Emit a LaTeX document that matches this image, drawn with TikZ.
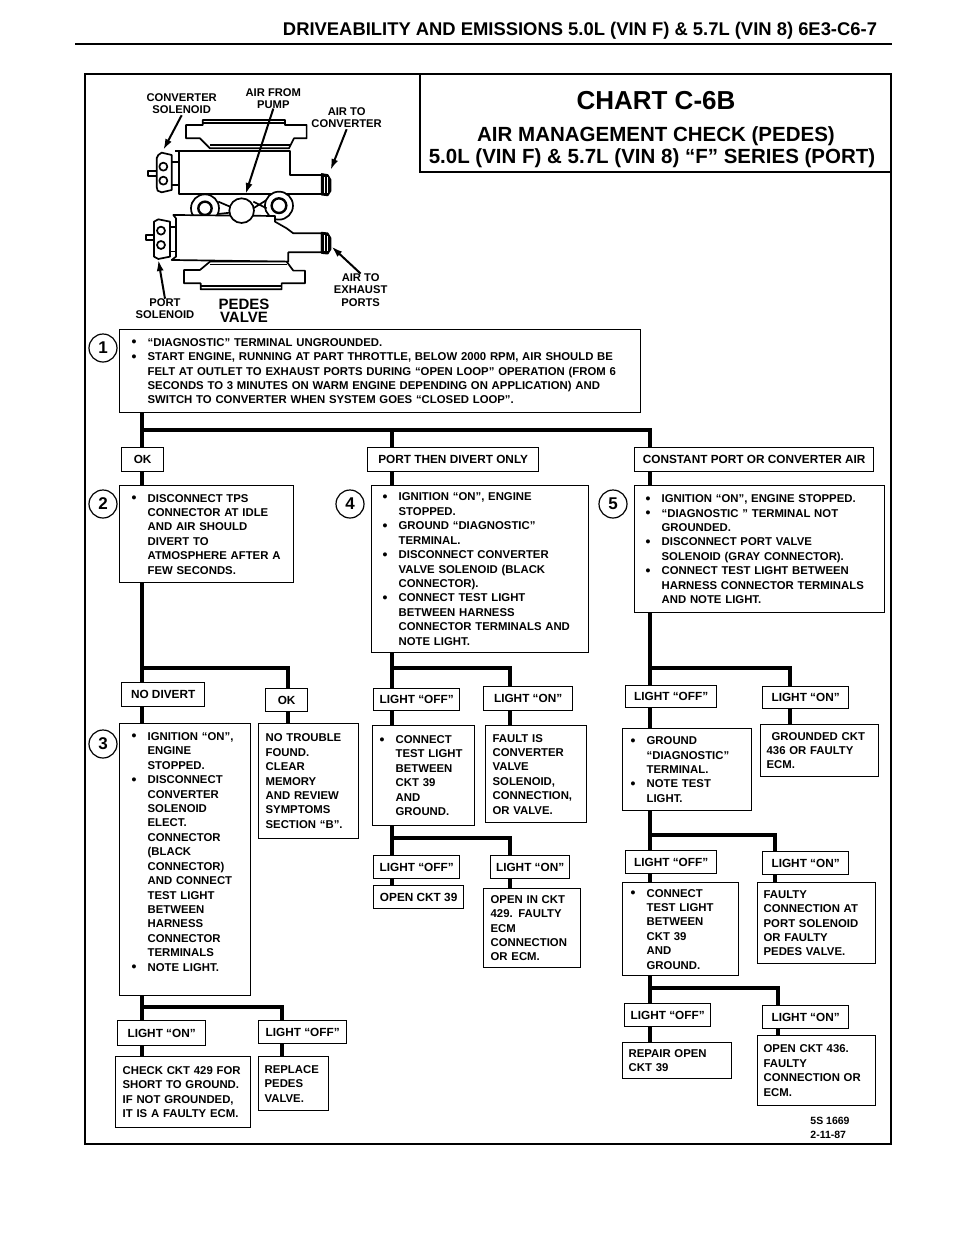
\documentclass[tikz,border=0pt]{standalone}
\usepackage{fontspec}
\setmainfont{Liberation Sans}
\newcommand{\chartfont}{\fontsize{11.35}{14.42}\selectfont\bfseries}
\newcommand{\bul}{\makebox[16pt][l]{\raisebox{-0.6pt}{\fontsize{14}{14}\selectfont\textbullet}}}
\newcommand{\ind}{\hspace*{16pt}}
\tikzset{
  box/.style n args={3}{draw, line width=1.3pt, anchor=north west, align=left, inner xsep=#3,
    inner ysep=0pt, minimum width=#1, minimum height=#2, text width={#1pt-2*#3}, font=\chartfont},
  tag/.style n args={2}{draw, line width=1.3pt, anchor=north west, inner sep=0pt,
    minimum width=#1, minimum height=#2, font=\fontsize{11.8}{14}\selectfont\bfseries},
  num/.style={draw, circle, line width=1.2pt, minimum size=28pt, inner sep=0pt, font=\fontsize{17}{17}\selectfont\bfseries},
  bus/.style={line width=3.6pt},
  part/.style={line width=1.7pt, line join=round},
  ptr/.style={line width=2pt, -{Latex[length=11pt,width=7pt]}},
  lbl/.style={align=center, font=\fontsize{11.2}{12.2}\selectfont\bfseries, inner sep=0pt},
}
\usetikzlibrary{arrows.meta}
\begin{document}
\begin{tikzpicture}[x=1pt, y=-1pt]
  \useasboundingbox (0,0) rectangle (960,1242);
  \fill[white] (0,0) rectangle (960,1242);

  % page head and frame
  \node[font=\fontsize{18.4}{20}\selectfont\bfseries, inner sep=0pt] (head) at (580,31)
    {DRIVEABILITY AND EMISSIONS 5.0L (VIN F) \& 5.7L (VIN 8) 6E3-C6-7};
  \draw[line width=2.4pt] (75,44) -- (892,44);
  \draw[line width=1.8pt] (85,74) rectangle (891,1144);
  \draw[line width=1.3pt] (420,74) -- (420,172) -- (891,172);
  \node[font=\fontsize{26}{30}\selectfont\bfseries, inner sep=0pt] (chart) at (656,101) {CHART C-6B};
  \node[font=\fontsize{20.5}{22}\selectfont\bfseries, inner sep=0pt] (title1) at (656,136) {AIR MANAGEMENT CHECK (PEDES)};
  \node[font=\fontsize{20.5}{22}\selectfont\bfseries, inner sep=0pt] (title2) at (652,158) {5.0L (VIN F) \& 5.7L (VIN 8) ``F'' SERIES (PORT)};

  % valve
  \begin{scope}[shift={(90,60)}, x=0.3333pt, y=-0.3333pt]
    \draw[part, fill=white] (288,195) -- (338,195) -- (338,180) -- (585,180) -- (585,195) -- (650,195)
      -- (650,235) -- (612,235) -- (597,265) -- (360,265) -- (330,235) -- (288,235) -- cycle;
    \draw[part] (338,190) -- (585,190) (360,256) -- (602,256);
    \draw[part, fill=white] (255,272) -- (600,272) -- (600,345) -- (695,345) -- (695,402) -- (268,402)
      -- (268,272);
    \draw[part, fill=black] (695,342) -- (713,345) -- (722,360) -- (722,392) -- (713,406) -- (695,404) -- cycle;
    \draw[line width=0.8pt, white] (703,350) -- (703,398) (712,352) -- (712,398);
    \draw[part, fill=white] (205,285) -- (215,278) -- (245,285) -- (245,390) -- (215,397) -- (203,392)
      -- (200,380) -- (200,295) -- cycle;
    \draw[part] (220,320) circle (12) (220,362) circle (12);
    \draw[part] (200,332) -- (175,332) -- (175,348) -- (200,348);
    \draw[part] (245,305) -- (268,305) (245,375) -- (268,375);
    \draw[part, fill=white] (345,445) circle (42);
    \draw[line width=2.4pt] (345,445) circle (20);
    \draw[part, fill=white] (567,437) circle (42);
    \draw[line width=2.4pt] (567,437) circle (22);
    \draw[part] (385,425) -- (420,440) (385,462) -- (420,458) (490,425) -- (530,445) (490,445) -- (530,420);
    \draw[part, fill=white] (250,465) -- (555,468) -- (555,485) -- (590,505) -- (610,520) -- (695,520)
      -- (695,577) -- (595,577) -- (595,605) -- (245,600) -- (258,590) -- (258,475) -- cycle;
    \draw[part, fill=white] (455,452) circle (37);
    \draw[part, fill=black] (695,518) -- (713,520) -- (722,535) -- (722,567) -- (713,581) -- (695,579) -- cycle;
    \draw[line width=0.8pt, white] (703,525) -- (703,573) (712,527) -- (712,573);
    \draw[part, fill=white] (192,485) -- (205,478) -- (240,485) -- (240,590) -- (205,597) -- (192,590) -- cycle;
    \draw[part] (213,512) circle (12) (213,555) circle (12);
    \draw[part] (192,525) -- (168,525) -- (168,540) -- (192,540);
    \draw[part] (240,500) -- (258,500) (240,575) -- (258,575);
    \draw[part, fill=white] (282,630) -- (330,630) -- (360,605) -- (590,605) -- (610,632) -- (645,632)
      -- (645,670) -- (575,670) -- (575,688) -- (332,688) -- (332,670) -- (282,670) -- cycle;
    \draw[part] (360,614) -- (590,614) (332,678) -- (575,678);

    \node[lbl] (consol) at (275,130) {CONVERTER\\SOLENOID};
    \node[lbl] (pump) at (550,115) {AIR FROM\\PUMP};
    \node[lbl] (toconv) at (770,172) {AIR TO\\CONVERTER};
    \node[lbl] (portsol) at (225,747) {PORT\\SOLENOID};
    \node[lbl] (toexh) at (812,690) {AIR TO\\EXHAUST\\PORTS};
    \node[lbl, font=\fontsize{15}{13.5}\selectfont\bfseries] (pedes) at (462,753) {PEDES\\VALVE};
    \coordinate (consolEnd) at (220,270);
    \coordinate (pumpEnd) at (467,402);
    \coordinate (toconvEnd) at (722,330);
    \coordinate (portsolEnd) at (205,600);
    \coordinate (toexhEnd) at (725,560);
    \draw[ptr] (consol.south) ++(0,5) -- (consolEnd);
    \draw[ptr] (pump.south) -- (pumpEnd);
    \draw[ptr] (toconv.south) ++(0,5) -- (toconvEnd);
    \draw[ptr] (portsol.north) -- (portsolEnd);
    \draw[ptr] (toexh.north) -- (toexhEnd);
  \end{scope}

  % first row
  \node[box={521}{83}{12}] (diag) at (119,329)
    {\bul``DIAGNOSTIC'' TERMINAL UNGROUNDED.\\
     \bul START ENGINE, RUNNING AT PART THROTTLE, BELOW 2000 RPM, AIR SHOULD BE\\
     \ind FELT AT OUTLET TO EXHAUST PORTS DURING ``OPEN LOOP'' OPERATION (FROM 6\\
     \ind SECONDS TO 3 MINUTES ON WARM ENGINE DEPENDING ON APPLICATION) AND\\
     \ind SWITCH TO CONVERTER WHEN SYSTEM GOES ``CLOSED LOOP''.};
  \node[num] (n1) at (103,348) {1};
  \node[tag={42}{24}] (ok1) at (121,447) {OK};
  \node[tag={171}{24}] (port) at (367,447) {PORT THEN DIVERT ONLY};
  \node[tag={239}{24}] (const) at (634,447) {CONSTANT PORT OR CONVERTER AIR};

  \node[box={174}{97}{12}] (tps) at (119,485)
    {\bul DISCONNECT TPS\\\ind CONNECTOR AT IDLE\\\ind AND AIR SHOULD\\\ind DIVERT TO\\\ind ATMOSPHERE AFTER A\\\ind FEW SECONDS.};
  \node[num] (n2) at (103,504) {2};
  \node[box={217}{167}{11}] (ign4) at (371,485)
    {\bul IGNITION ``ON'', ENGINE\\\ind STOPPED.\\\bul GROUND ``DIAGNOSTIC''\\\ind TERMINAL.\\\bul DISCONNECT  CONVERTER\\\ind VALVE SOLENOID (BLACK\\\ind CONNECTOR).\\\bul CONNECT TEST LIGHT\\\ind BETWEEN HARNESS\\\ind CONNECTOR TERMINALS AND\\\ind NOTE LIGHT.};
  \node[num] (n4) at (350,504) {4};
  \node[box={250}{127}{11}] (ign5) at (634,485)
    {\bul IGNITION ``ON'', ENGINE STOPPED.\\\bul ``DIAGNOSTIC '' TERMINAL NOT\\\ind GROUNDED.\\\bul DISCONNECT PORT VALVE\\\ind SOLENOID (GRAY CONNECTOR).\\\bul CONNECT TEST LIGHT BETWEEN\\\ind HARNESS CONNECTOR TERMINALS\\\ind AND NOTE LIGHT.};
  \node[num] (n5) at (613,504) {5};

  \coordinate (trunkA) at (142,430);
  \coordinate (trunkB) at (392,430);
  \coordinate (trunkC) at (650,430);
  \draw[bus] (diag.south -| trunkA) -- (trunkA);
  \draw[bus] (trunkA) -- (trunkC) -- (const.north -| trunkC);
  \draw[bus] (trunkA) -- (ok1.north -| trunkA);
  \draw[bus] (trunkB) -- (port.north -| trunkB);
  \draw[bus] (ok1.south -| trunkA) -- (tps.north -| trunkA);
  \draw[bus] (port.south -| trunkB) -- (ign4.north -| trunkB);
  \draw[bus] (const.south -| trunkC) -- (ign5.north -| trunkC);

  % left branch
  \node[tag={83}{24}] (nodiv) at (121,682) {NO DIVERT};
  \node[tag={42}{23}] (ok2) at (265,688) {OK};
  \node[box={131}{272}{12}] (ign3) at (119,723)
    {\bul IGNITION ``ON'',\\\ind ENGINE\\\ind STOPPED.\\\bul DISCONNECT\\\ind CONVERTER\\\ind SOLENOID\\\ind ELECT.\\\ind CONNECTOR\\\ind (BLACK\\\ind CONNECTOR)\\\ind AND CONNECT\\\ind TEST LIGHT\\\ind BETWEEN\\\ind HARNESS\\\ind CONNECTOR\\\ind TERMINALS\\\bul NOTE LIGHT.\\[-3pt] \strut};
  \node[num] (n3) at (103,744) {3};
  \node[box={100}{115}{7}] (trouble) at (258,723)
    {NO TROUBLE\\FOUND.\\CLEAR\\MEMORY\\AND REVIEW\\SYMPTOMS\\SECTION ``B''.};
  \node[tag={88}{25}] (on3) at (117,1020) {LIGHT ``ON''};
  \node[tag={88}{23}] (off3) at (258,1020) {LIGHT ``OFF''};
  \node[box={135}{71}{7}] (check) at (115,1056)
    {CHECK CKT 429 FOR\\SHORT TO GROUND.\\IF NOT GROUNDED,\\IT IS A FAULTY ECM.};
  \node[box={70}{54}{6}] (repl) at (258,1056) {REPLACE\\PEDES\\VALVE.};

  \coordinate (busA) at (142,668);
  \coordinate (busA2) at (288,668);
  \draw[bus] (tps.south -| busA) -- (nodiv.north -| busA);
  \draw[bus] (busA) -- (busA2) -- (ok2.north -| busA2);
  \draw[bus] (nodiv.south -| busA) -- (ign3.north -| busA);
  \draw[bus] (ok2.south -| busA2) -- (trouble.north -| busA2);
  \coordinate (busE) at (142,1007);
  \coordinate (busE2) at (282,1007);
  \draw[bus] (ign3.south -| busE) -- (on3.north -| busE);
  \draw[bus] (busE) -- (busE2) -- (off3.north -| busE2);
  \draw[bus] (on3.south -| busE) -- (check.north -| busE);
  \draw[bus] (off3.south -| busE2) -- (repl.north -| busE2);

  % middle branch
  \node[tag={86}{22}] (off4) at (373,688) {LIGHT ``OFF''};
  \node[tag={89}{24}] (on4) at (483,686) {LIGHT ``ON''};
  \node[box={102}{100}{7}] (conn4) at (372,725)
    {\bul CONNECT\\\ind TEST LIGHT\\\ind BETWEEN\\\ind CKT 39\\\ind AND\\\ind GROUND.};
  \node[box={101}{97}{7}] (fault4) at (485,725)
    {FAULT IS\\CONVERTER\\VALVE\\SOLENOID,\\CONNECTION,\\OR VALVE.};
  \node[tag={86}{23}] (off5) at (373,855) {LIGHT ``OFF''};
  \node[tag={79}{23}] (on5) at (490,855) {LIGHT ``ON''};
  \node[tag={90}{23}] (open39) at (373,885) {OPEN CKT 39};
  \node[box={97}{79}{7}] (open429) at (483,888)
    {OPEN IN CKT\\429. FAULTY\\ECM\\CONNECTION\\OR ECM.};

  \coordinate (busB) at (392,668);
  \coordinate (busB2) at (510,668);
  \draw[bus] (ign4.south -| busB) -- (off4.north -| busB);
  \draw[bus] (busB) -- (busB2) -- (on4.north -| busB2);
  \draw[bus] (off4.south -| busB) -- (conn4.north -| busB);
  \draw[bus] (on4.south -| busB2) -- (fault4.north -| busB2);
  \coordinate (busC) at (392,838);
  \coordinate (busC2) at (510,838);
  \draw[bus] (conn4.south -| busC) -- (off5.north -| busC);
  \draw[bus] (busC) -- (busC2) -- (on5.north -| busC2);
  \draw[bus] (off5.south -| busC) -- (open39.north -| busC);
  \draw[bus] (on5.south -| busC2) -- (open429.north -| busC2);

  % right branch
  \node[tag={91}{22}] (off6) at (625,685) {LIGHT ``OFF''};
  \node[tag={86}{22}] (on6) at (762,686) {LIGHT ``ON''};
  \node[box={129}{82}{8}] (gnd6) at (622,728)
    {\bul GROUND\\\ind ``DIAGNOSTIC''\\\ind TERMINAL.\\\bul NOTE TEST\\\ind LIGHT.};
  \node[box={118}{52}{6}] (gnd436) at (760,724)
    {\hspace*{5pt}GROUNDED CKT\\436 OR FAULTY\\ECM.};
  \node[tag={91}{23}] (off7) at (625,850) {LIGHT ``OFF''};
  \node[tag={86}{23}] (on7) at (762,851) {LIGHT ``ON''};
  \node[box={116}{93}{8}] (conn7) at (622,882)
    {\bul CONNECT\\\ind TEST LIGHT\\\ind BETWEEN\\\ind CKT 39\\\ind AND\\\ind GROUND.};
  \node[box={118}{81}{6}] (fault7) at (757,882)
    {FAULTY\\CONNECTION AT\\PORT SOLENOID\\OR FAULTY\\PEDES VALVE.};
  \node[tag={86}{23}] (off8) at (624,1003) {LIGHT ``OFF''};
  \node[tag={86}{23}] (on8) at (762,1005) {LIGHT ``ON''};
  \node[box={109}{36}{6}] (repair) at (622,1042) {REPAIR OPEN\\CKT 39};
  \node[box={118}{70}{6}] (open436) at (757,1035)
    {OPEN CKT 436.\\FAULTY\\CONNECTION OR\\ECM.};

  \coordinate (busF) at (650,668);
  \coordinate (busF2) at (790,668);
  \draw[bus] (ign5.south -| busF) -- (off6.north -| busF);
  \draw[bus] (busF) -- (busF2) -- (on6.north -| busF2);
  \draw[bus] (off6.south -| busF) -- (gnd6.north -| busF);
  \draw[bus] (on6.south -| busF2) -- (gnd436.north -| busF2);
  \coordinate (busG) at (650,835);
  \coordinate (busG2) at (775,835);
  \draw[bus] (gnd6.south -| busG) -- (off7.north -| busG);
  \draw[bus] (busG) -- (busG2) -- (on7.north -| busG2);
  \draw[bus] (off7.south -| busG) -- (conn7.north -| busG);
  \draw[bus] (on7.south -| busG2) -- (fault7.north -| busG2);
  \coordinate (busH) at (650,988);
  \coordinate (busH2) at (778,988);
  \draw[bus] (conn7.south -| busH) -- (off8.north -| busH);
  \draw[bus] (busH) -- (busH2) -- (on8.north -| busH2);
  \draw[bus] (off8.south -| busH) -- (repair.north -| busH);
  \draw[bus] (on8.south -| busH2) -- (open436.north -| busH2);

  \node[align=left, inner sep=0pt, font=\fontsize{10.5}{14}\selectfont\bfseries] (stamp) at (830,1128) {5S 1669\\2-11-87};
\end{tikzpicture}
\end{document}
